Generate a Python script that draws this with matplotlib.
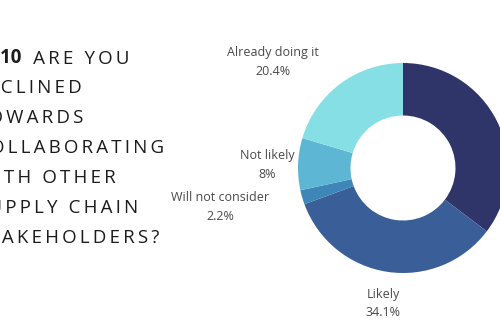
import matplotlib.pyplot as plt

# Survey answers for Q10
categories = ["Very likely", "Likely", "Will not consider", "Not likely", "Already doing it"]
shares = [35.3, 34.1, 2.2, 8.0, 20.4]
colors = ["#2f3568", "#3a5e97", "#3e86b7", "#5db6d3", "#86dfe4"]

question_lines = ["ARE YOU", "INCLINED", "TOWARDS", "COLLABORATING",
                  "WITH OTHER", "SUPPLY CHAIN", "STAKEHOLDERS?"]
question_tag = "Q10"

# label anchors in pie units (radius 1)
label_pos = [(1.35, 0.45), (-0.19, -1.29), (-1.74, -0.37), (-1.29, 0.03), (-1.24, 1.01)]

TITLE_FONT = ["Open Sans", "DejaVu Sans"]


def spaced(s):
    return "\u2009".join(s)


fig = plt.figure(figsize=(5, 3.3), dpi=100)
fig.patch.set_facecolor("white")

# -------------------------------
# question text on the left
# -------------------------------
tax = fig.add_axes([0, 0, 1, 1])
tax.set_xlim(0, 500)
tax.set_ylim(330, 0)
tax.axis("off")

x0 = -25
for i, line in enumerate(question_lines):
    y = 63 + i * 30
    if i == 0:
        t = tax.text(-14.5, y, question_tag, fontsize=13.5, fontweight="bold",
                     family=TITLE_FONT, color="#1c1c1c", va="baseline", clip_on=False)
        tax.annotate("\u2009 \u2009" + spaced(line), xy=(1, 0), xycoords=t,
                     fontsize=13.5, family=TITLE_FONT, color="#1c1c1c",
                     va="bottom", ha="left")
    else:
        tax.text(x0, y, spaced(line), fontsize=13.5, family=TITLE_FONT,
                 color="#1c1c1c", va="baseline", clip_on=False)

# -------------------------------
# donut
# -------------------------------
cx, cy, r = 403, 168, 105
ax = fig.add_axes([(cx - r) / 500, 1 - (cy + r) / 330, 2 * r / 500, 2 * r / 330])
ax.pie(shares, colors=colors, startangle=90, counterclock=False, radius=1,
       wedgeprops=dict(width=0.5, edgecolor="none"))
ax.set_xlim(-1, 1)
ax.set_ylim(-1, 1)
ax.set_aspect("equal")
ax.axis("off")

for name, val, (lx, ly) in zip(categories, shares, label_pos):
    ax.text(lx, ly, f"{name}\n{val:g}%", ha="center", va="center", fontsize=9,
            family=TITLE_FONT, color="#4a4a4a", linespacing=1.55, clip_on=False)

fig.savefig("out.png", dpi=100)
